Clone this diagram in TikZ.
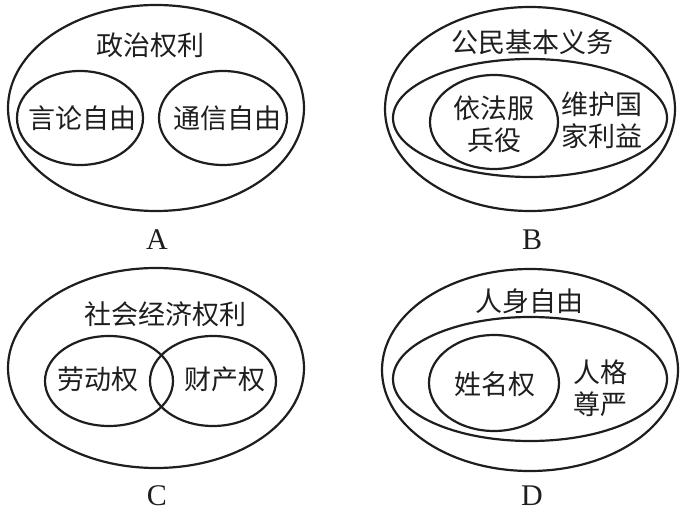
\documentclass[tikz,border=0pt]{standalone}
\usepackage{fontspec}
\setmainfont{Liberation Serif}
\newfontfamily\cjkfont{Noto Sans CJK SC}
\usetikzlibrary{shapes.geometric}
\definecolor{inkBlack}{RGB}{30,30,30}

\begin{document}
\begin{tikzpicture}[x=0.5pt,y=-0.5pt,
  ring/.style args={#1/#2}{draw=inkBlack,ellipse,line width=1.1pt,inner sep=0pt,minimum width=#1pt,minimum height=#2pt},
  term/.style={inner sep=0pt,align=center,text=inkBlack,font=\cjkfont\fontsize{13.5}{16}\selectfont},
  tag/.style={inner sep=0pt,text=inkBlack,font=\fontsize{15}{15}\selectfont}]
\useasboundingbox (0,0) rectangle (684,513);
% A
\node[ring=148/103] (outA) at (156,108) {};
\node[term] (titA) at (150,45) {政治权利};
\node[ring=63/47] (lfA) at (80,118) {};
\node[ring=64/47] (rtA) at (223,118) {};
\node[term] (lfAt) at (82,118) {言论自由};
\node[term] (rtAt) at (227,118) {通信自由};
\node[tag] (labA) at (157,240) {A};
% B
\node[ring=145/102] (outB) at (530,109) {};
\node[term] (titB) at (532,42) {公民基本义务};
\node[ring=137/59] (midB) at (530,118) {};
\node[ring=64/47] (inB) at (494,122) {};
\node[term] (inBt) at (494,124) {依法服\\兵役};
\node[term] (midBt) at (602,120) {维护国\\家利益};
\node[tag] (labB) at (532,240) {B};
% C
\node[ring=148/100] (outC) at (156,368) {};
\node[term] (titC) at (165,314) {社会经济权利};
\node[ring=64/45] (lfC) at (109,381) {};
\node[ring=63/45] (rtC) at (213,381) {};
\node[term] (lfCt) at (98,379) {劳动权};
\node[term] (rtCt) at (225,379) {财产权};
\node[tag] (labC) at (157,496) {C};
% D
\node[ring=148/101] (outD) at (530,370) {};
\node[term] (titD) at (529,301) {人身自由};
\node[ring=137/62] (midD) at (530,379) {};
\node[ring=65/48] (inD) at (494,383) {};
\node[term] (inDt) at (495,384) {姓名权};
\node[term] (midDt) at (600,388) {人格\\尊严};
\node[tag] (labD) at (532,496) {D};
\end{tikzpicture}
\end{document}
